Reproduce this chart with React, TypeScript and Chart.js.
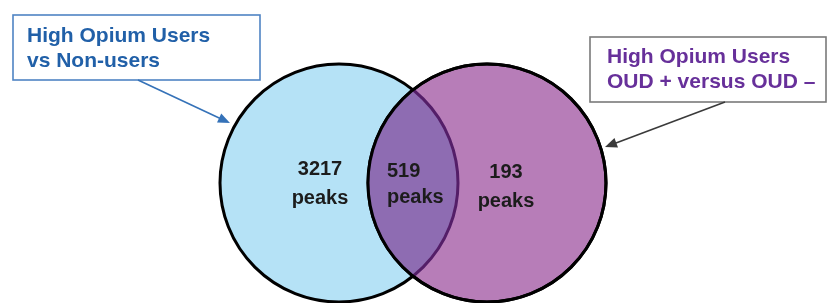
import React, { useEffect, useRef } from "react";
import { Chart, registerables } from "chart.js";

Chart.register(...registerables);

// ---- data ----
const setTitlesLeft = ["High Opium Users", "vs Non-users"];
const setTitlesRight = ["High Opium Users", "OUD + versus OUD –"];
const regionCounts = [3217, 519, 193];
const regionUnit = "peaks";

// ---- layout (chart units map 1:1 to pixels) ----
const W = 829;
const H = 303;
const circleLeft = { x: 339, y: 183, r: 119 };
const circleRight = { x: 487, y: 183, r: 119 };
const regionLabelPos = [
  { x: 320, y1: 175, y2: 204, align: "center" },
  { x: 387, y1: 177, y2: 203, align: "left" },
  { x: 506, y1: 178, y2: 207, align: "center" },
];
const boxLeft = { x0: 13, y0: 15, x1: 260, y1: 80, tx: 27, b1: 42, b2: 67 };
const boxRight = { x0: 590, y0: 37, x1: 826, y1: 102, tx: 607, b1: 63, b2: 88 };
const arrowLeft = { x0: 138, y0: 80, x1: 230, y1: 123 };
const arrowRight = { x0: 725, y0: 102, x1: 605, y1: 147 };

const COLOR_LEFT = "rgb(181, 226, 246)";
const COLOR_RIGHT = "rgb(183, 125, 184)";
const COLOR_BOTH = "rgb(142, 108, 178)";
const COLOR_INNER_ARC = "rgb(84, 30, 104)";

const FONT = '"Liberation Sans", Arial, sans-serif';

function drawArrow(ctx: CanvasRenderingContext2D, x0: number, y0: number, x1: number, y1: number, color: string) {
  const ang = Math.atan2(y1 - y0, x1 - x0);
  const len = 12;
  const hw = 5;
  ctx.save();
  ctx.strokeStyle = color;
  ctx.fillStyle = color;
  ctx.lineWidth = 1.6;
  ctx.beginPath();
  ctx.moveTo(x0, y0);
  ctx.lineTo(x1 - Math.cos(ang) * len * 0.8, y1 - Math.sin(ang) * len * 0.8);
  ctx.stroke();
  ctx.beginPath();
  ctx.moveTo(x1, y1);
  const bx = x1 - Math.cos(ang) * len;
  const by = y1 - Math.sin(ang) * len;
  ctx.lineTo(bx + Math.sin(ang) * hw, by - Math.cos(ang) * hw);
  ctx.lineTo(bx - Math.sin(ang) * hw, by + Math.cos(ang) * hw);
  ctx.closePath();
  ctx.fill();
  ctx.restore();
}

const overlayPlugin = {
  id: "vennOverlay",
  afterDatasetsDraw(chart: any) {
    const ctx: CanvasRenderingContext2D = chart.ctx;
    const xs = chart.scales.x;
    const ys = chart.scales.y;
    const px = (v: number) => xs.getPixelForValue(v);
    const py = (v: number) => ys.getPixelForValue(v);

    // intersection region, from the bubble elements
    const eR: any = chart.getDatasetMeta(0).data[0];
    const eL: any = chart.getDatasetMeta(1).data[0];
    if (eR && eL) {
      const rL = eL.options.radius;
      const rR = eR.options.radius;
      const path = (e: any, r: number) => {
        ctx.beginPath();
        ctx.arc(e.x, e.y, r, 0, Math.PI * 2);
      };
      ctx.save();
      path(eL, rL);
      ctx.clip();
      path(eR, rR);
      ctx.fillStyle = COLOR_BOTH;
      ctx.fill();
      ctx.restore();

      ctx.save();
      path(eR, rR);
      ctx.clip();
      path(eL, rL);
      ctx.strokeStyle = COLOR_INNER_ARC;
      ctx.lineWidth = 3;
      ctx.stroke();
      ctx.restore();

      ctx.save();
      path(eR, rR);
      ctx.strokeStyle = "#000000";
      ctx.lineWidth = 3;
      ctx.stroke();
      ctx.restore();
    }

    // region counts
    ctx.save();
    ctx.fillStyle = "#1c1c1c";
    ctx.font = `bold 20px ${FONT}`;
    ctx.textBaseline = "alphabetic";
    regionCounts.forEach((c, i) => {
      const p = regionLabelPos[i];
      ctx.textAlign = p.align as CanvasTextAlign;
      ctx.fillText(String(c), px(p.x), py(p.y1));
      ctx.fillText(regionUnit, px(p.x), py(p.y2));
    });
    ctx.restore();

    // callout boxes
    const drawBox = (b: any, lines: string[], border: string, color: string) => {
      ctx.save();
      ctx.fillStyle = "#ffffff";
      ctx.fillRect(px(b.x0), py(b.y0), px(b.x1) - px(b.x0), py(b.y1) - py(b.y0));
      ctx.strokeStyle = border;
      ctx.lineWidth = 1.6;
      ctx.strokeRect(px(b.x0), py(b.y0), px(b.x1) - px(b.x0), py(b.y1) - py(b.y0));
      ctx.fillStyle = color;
      ctx.font = `bold 21px ${FONT}`;
      ctx.textAlign = "left";
      ctx.textBaseline = "alphabetic";
      ctx.fillText(lines[0], px(b.tx), py(b.b1));
      ctx.fillText(lines[1], px(b.tx), py(b.b2));
      ctx.restore();
    };
    drawBox(boxLeft, setTitlesLeft, "#4f84c4", "#2160a8");
    drawBox(boxRight, setTitlesRight, "#7a7a7a", "#67309a");

    drawArrow(ctx, px(arrowLeft.x0), py(arrowLeft.y0), px(arrowLeft.x1), py(arrowLeft.y1), "#3572b8");
    drawArrow(ctx, px(arrowRight.x0), py(arrowRight.y0), px(arrowRight.x1), py(arrowRight.y1), "#3a3a3a");
  },
};

export default function App() {
  const ref = useRef<HTMLCanvasElement | null>(null);
  useEffect(() => {
    document.body.style.margin = "0";
    const canvas = ref.current;
    if (!canvas) return;
    const chart = new Chart(canvas, {
      type: "bubble",
      data: {
        datasets: [
          {
            label: "High Opium Users OUD + versus OUD –",
            data: [{ x: circleRight.x, y: circleRight.y, r: circleRight.r }],
            backgroundColor: COLOR_RIGHT,
            borderColor: "#000000",
            borderWidth: 3,
            order: 0,
            clip: false,
          } as any,
          {
            label: "High Opium Users vs Non-users",
            data: [{ x: circleLeft.x, y: circleLeft.y, r: circleLeft.r }],
            backgroundColor: COLOR_LEFT,
            borderColor: "#000000",
            borderWidth: 3,
            order: 1,
            clip: false,
          } as any,
        ],
      },
      options: {
        animation: false,
        responsive: false,
        maintainAspectRatio: false,
        events: [],
        layout: { padding: 0, autoPadding: false },
        plugins: { legend: { display: false }, tooltip: { enabled: false } },
        scales: {
          x: { type: "linear", min: 0, max: W, display: false },
          y: { type: "linear", min: 0, max: H, reverse: true, display: false },
        },
      },
      plugins: [overlayPlugin],
    });
    return () => chart.destroy();
  }, []);
  return (
    <div style={{ width: W, height: H, background: "#ffffff" }}>
      <canvas ref={ref} width={W} height={H} style={{ display: "block" }} />
    </div>
  );
}
